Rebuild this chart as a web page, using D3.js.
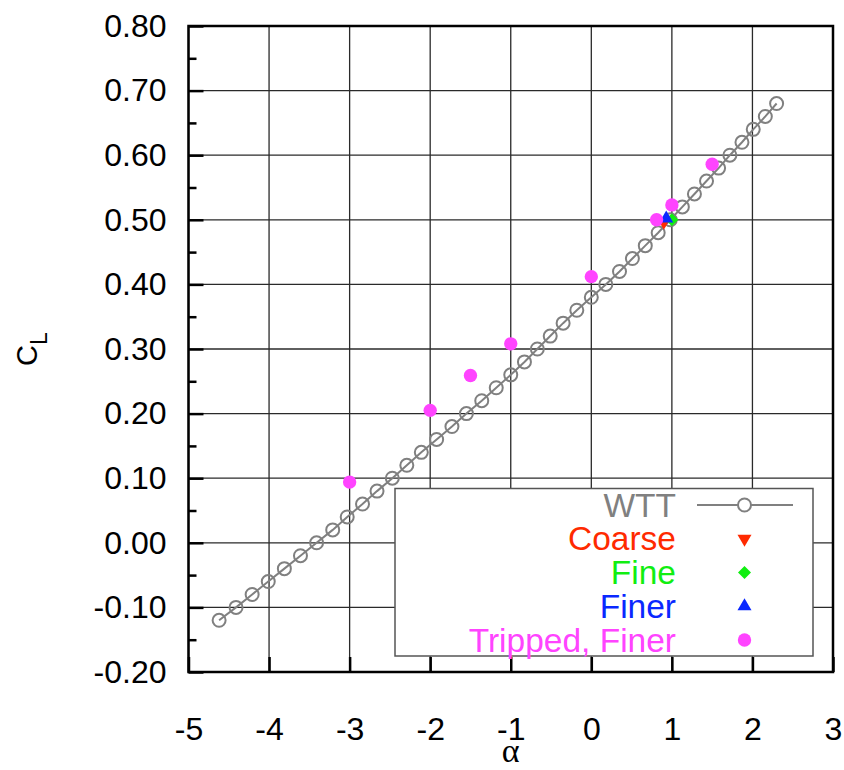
<!DOCTYPE html>
<html>
<head>
<meta charset="utf-8">
<script src="https://cdn.jsdelivr.net/npm/d3@7"></script>
<style>
  body { margin: 0; background: #fff; }
  svg { display: block; }
</style>
</head>
<body>
<div id="chart"></div>
<script>
// wind tunnel lift curve, CL vs alpha
const wttAlpha = [-4.62, -4.41, -4.21, -4.01, -3.81, -3.61, -3.41, -3.21, -3.03, -2.84,
  -2.66, -2.47, -2.29, -2.11, -1.92, -1.73, -1.55, -1.36, -1.18, -1.00,
  -0.83, -0.67, -0.51, -0.35, -0.18, 0.00, 0.18, 0.35, 0.51, 0.67,
  0.83, 0.98, 1.13, 1.28, 1.43, 1.58, 1.72, 1.87, 2.01, 2.16, 2.30];
const wttCL = [-0.12, -0.10, -0.08, -0.06, -0.04, -0.02, 0.00, 0.02, 0.04, 0.06,
  0.08, 0.10, 0.12, 0.14, 0.16, 0.18, 0.20, 0.22, 0.24, 0.26,
  0.28, 0.30, 0.32, 0.34, 0.36, 0.38, 0.40, 0.42, 0.44, 0.46,
  0.48, 0.50, 0.52, 0.54, 0.56, 0.58, 0.60, 0.62, 0.64, 0.66, 0.68];

// CFD grids
const coarseAlpha = [0.90], coarseCL = [0.497];
const fineAlpha = [1.00], fineCL = [0.500];
const finerAlpha = [0.93], finerCL = [0.502];
const trippedAlpha = [-3, -2, -1.5, -1, 0, 0.81, 1.0, 1.5];
const trippedCL = [0.094, 0.205, 0.259, 0.308, 0.412, 0.500, 0.523, 0.586];

const xTicks = [-5, -4, -3, -2, -1, 0, 1, 2, 3];
const yTicks = [-0.2, -0.1, 0.0, 0.1, 0.2, 0.3, 0.4, 0.5, 0.6, 0.7, 0.8];
const yMinor = [-0.15, -0.05, 0.05, 0.15, 0.25, 0.35, 0.45, 0.55, 0.65, 0.75];

const legendItems = [
  { name: "WTT", color: "#808080", symbol: "wtt" },
  { name: "Coarse", color: "#ff2a00", symbol: "down" },
  { name: "Fine", color: "#11ee11", symbol: "diamond" },
  { name: "Finer", color: "#0a28ff", symbol: "up" },
  { name: "Tripped, Finer", color: "#ff44ff", symbol: "circle" }
];

const W = 844, H = 770;
const pLeft = 188.5, pRight = 833, pTop = 26, pBottom = 672;
const font = "'Liberation Sans', Arial, sans-serif";

const svg = d3.select("#chart").append("svg")
  .attr("width", W).attr("height", H);

const x = d3.scaleLinear().domain([-5, 3]).range([pLeft, pRight]);
const y = d3.scaleLinear().domain([-0.2, 0.8]).range([pBottom, pTop]);

// grid
const grid = svg.append("g").attr("stroke", "#2a2a2a").attr("stroke-width", 1.3);
grid.selectAll(".gx").data(xTicks).enter().append("line")
  .attr("x1", d => x(d)).attr("x2", d => x(d))
  .attr("y1", pTop).attr("y2", pBottom);
grid.selectAll(".gy").data(yTicks).enter().append("line")
  .attr("x1", pLeft).attr("x2", pRight)
  .attr("y1", d => y(d)).attr("y2", d => y(d));

// axes, ticks pointing inward
const xAxis = svg.append("g")
  .attr("transform", `translate(0,${pBottom})`)
  .call(d3.axisBottom(x).tickValues(xTicks).tickFormat(d => String(d))
    .tickSizeInner(-15).tickSizeOuter(0).tickPadding(45));
const yAxis = svg.append("g")
  .attr("transform", `translate(${pLeft},0)`)
  .call(d3.axisLeft(y).tickValues(yTicks).tickFormat(d => d.toFixed(2))
    .tickSizeInner(-15).tickSizeOuter(0).tickPadding(22));
const yAxisMinor = svg.append("g")
  .attr("transform", `translate(${pLeft},0)`)
  .call(d3.axisLeft(y).tickValues(yMinor).tickFormat("")
    .tickSizeInner(-8).tickSizeOuter(0));

[xAxis, yAxis, yAxisMinor].forEach(a => {
  a.select(".domain").remove();
  a.selectAll(".tick line").attr("stroke", "#000").attr("stroke-width", 2.5);
  a.selectAll(".tick text")
    .attr("fill", "#000")
    .style("font-family", font)
    .style("font-size", "32px");
});

// frame
svg.append("rect")
  .attr("x", pLeft).attr("y", pTop)
  .attr("width", pRight - pLeft).attr("height", pBottom - pTop)
  .attr("fill", "none").attr("stroke", "#000").attr("stroke-width", 2.5);

// axis titles
svg.append("text")
  .attr("x", (pLeft + pRight) / 2).attr("y", 762)
  .attr("text-anchor", "middle")
  .style("font-family", "'Liberation Serif', 'Times New Roman', serif")
  .style("font-size", "34px")
  .text("α");

const yTitle = svg.append("text")
  .attr("transform", `translate(37,${(pTop + pBottom) / 2}) rotate(-90)`)
  .attr("text-anchor", "middle")
  .style("font-family", font)
  .style("font-size", "29px");
yTitle.append("tspan").text("C");
yTitle.append("tspan").attr("dy", 10).style("font-size", "23px").text("L");

// WTT line + open circles
const wtt = wttAlpha.map((a, i) => ({ a: a, cl: wttCL[i] }));
svg.append("path")
  .datum(wtt)
  .attr("fill", "none")
  .attr("stroke", "#808080")
  .attr("stroke-width", 2)
  .attr("d", d3.line().x(d => x(d.a)).y(d => y(d.cl)));
svg.append("g").selectAll("circle").data(wtt).enter().append("circle")
  .attr("cx", d => x(d.a)).attr("cy", d => y(d.cl)).attr("r", 6.5)
  .attr("fill", "none").attr("stroke", "#808080").attr("stroke-width", 2);

function symbolPath(kind, size) {
  if (kind === "down") return d3.symbol(d3.symbolTriangle, size)();
  if (kind === "up") return d3.symbol(d3.symbolTriangle, size)();
  if (kind === "diamond") return d3.symbol(d3.symbolSquare, size)();
  return d3.symbol(d3.symbolCircle, size)();
}

function drawMarks(alphas, cls, kind, color, size) {
  const rot = kind === "down" ? 180 : kind === "diamond" ? 45 : 0;
  svg.append("g").selectAll("path").data(alphas.map((a, i) => [a, cls[i]])).enter()
    .append("path")
    .attr("d", symbolPath(kind, size))
    .attr("transform", d => `translate(${x(d[0])},${y(d[1])}) rotate(${rot})`)
    .attr("fill", color);
}

drawMarks(coarseAlpha, coarseCL, "down", legendItems[1].color, 85);
drawMarks(fineAlpha, fineCL, "diamond", legendItems[2].color, 85);
drawMarks(finerAlpha, finerCL, "up", legendItems[3].color, 85);
drawMarks(trippedAlpha, trippedCL, "circle", legendItems[4].color, 140);

// legend
const lg = svg.append("g");
lg.append("rect")
  .attr("x", 395).attr("y", 488.5).attr("width", 418).attr("height", 167.5)
  .attr("fill", "#fff").attr("stroke", "#555").attr("stroke-width", 1.5);

const rowY = d3.scaleLinear().domain([0, 4]).range([505, 640]);
const symX = 744.5;
legendItems.forEach((it, i) => {
  const cy = rowY(i);
  lg.append("text")
    .attr("x", 676).attr("y", cy + 11.5)
    .attr("text-anchor", "end")
    .attr("fill", it.color)
    .style("font-family", font)
    .style("font-size", "33.5px")
    .text(it.name);
  if (it.symbol === "wtt") {
    lg.append("line")
      .attr("x1", 697).attr("x2", 793).attr("y1", cy).attr("y2", cy)
      .attr("stroke", it.color).attr("stroke-width", 2);
    lg.append("circle")
      .attr("cx", symX).attr("cy", cy).attr("r", 6.5)
      .attr("fill", "#fff").attr("stroke", it.color).attr("stroke-width", 2);
  } else {
    const rot = it.symbol === "down" ? 180 : it.symbol === "diamond" ? 45 : 0;
    lg.append("path")
      .attr("d", symbolPath(it.symbol, it.symbol === "circle" ? 140 : 85))
      .attr("transform", `translate(${symX},${cy}) rotate(${rot})`)
      .attr("fill", it.color);
  }
});
</script>
</body>
</html>
